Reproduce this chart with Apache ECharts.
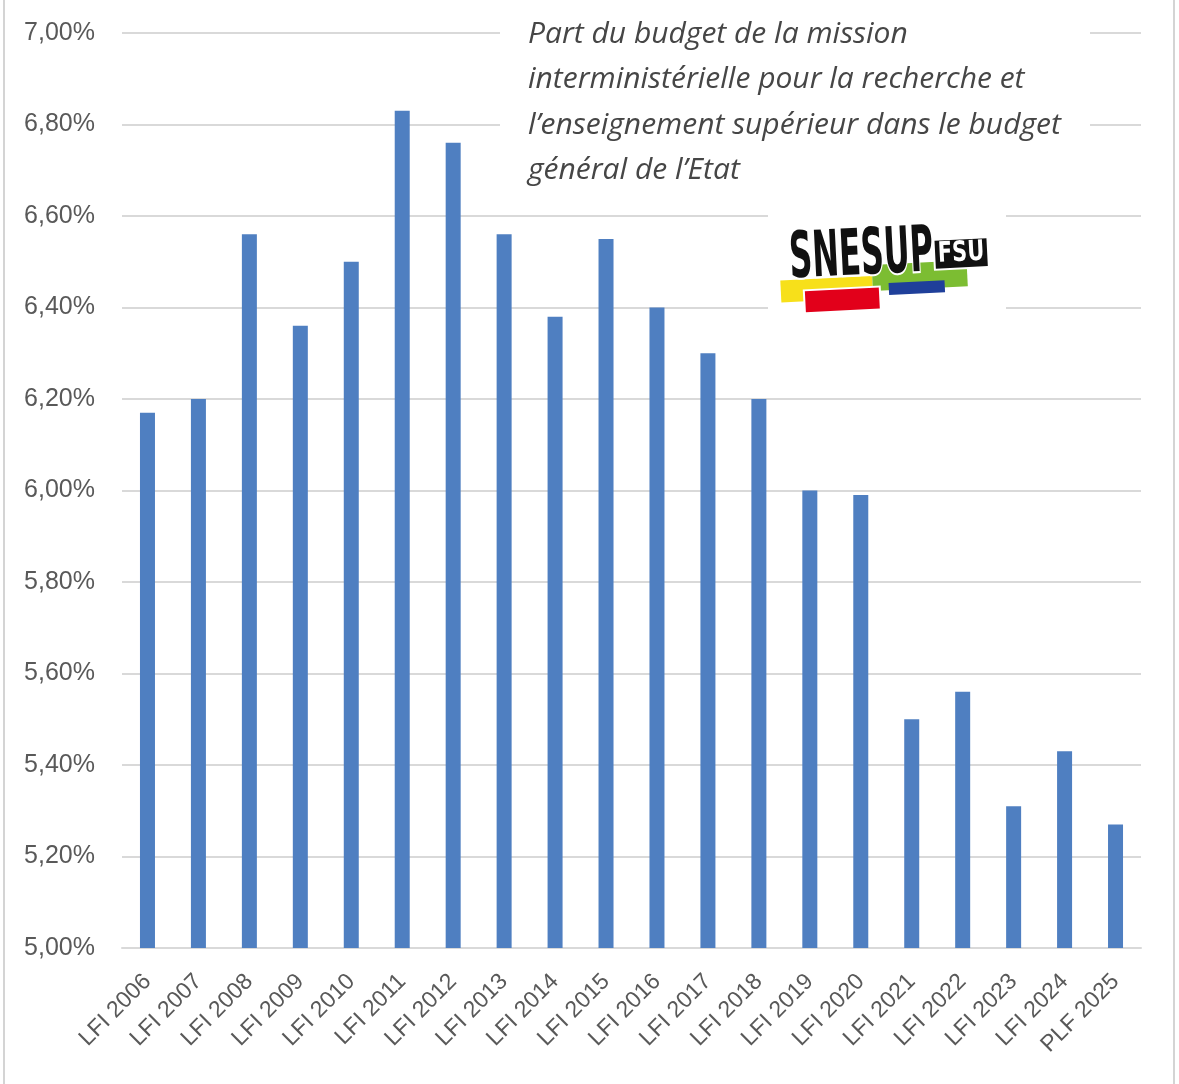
<!DOCTYPE html>
<html>
<head>
<meta charset="utf-8">
<script src="https://cdn.jsdelivr.net/npm/echarts@6/dist/echarts.min.js"></script>
<style>
html,body{margin:0;padding:0;background:#ffffff;}
#chart{width:1179px;height:1084px;}
</style>
</head>
<body>
<div id="chart"></div>
<script>
const categories = ['LFI 2006','LFI 2007','LFI 2008','LFI 2009','LFI 2010','LFI 2011','LFI 2012','LFI 2013','LFI 2014','LFI 2015','LFI 2016','LFI 2017','LFI 2018','LFI 2019','LFI 2020','LFI 2021','LFI 2022','LFI 2023','LFI 2024','PLF 2025'];
const shareValues = [6.17,6.20,6.56,6.36,6.50,6.83,6.76,6.56,6.38,6.55,6.40,6.30,6.20,6.00,5.99,5.50,5.56,5.31,5.43,5.27];
const titleLines = ['Part du budget de la mission','interministérielle pour la recherche et','l\u2019enseignement supérieur dans le budget','général de l\u2019Etat'];
const yMin = 5, yMax = 7, yStep = 0.2;

const chart = echarts.init(document.getElementById('chart'));
const txtColor = '#595959';
const gridColor = '#d9d9d9';

const graphics = [
  {type:'rect', z:1, shape:{x:4,y:-5,width:1170,height:1100}, style:{fill:'none',stroke:'#d4d4d4',lineWidth:2}, silent:true},
  {type:'rect', z:50, shape:{x:500,y:4,width:590,height:190}, style:{fill:'#ffffff'}},
  {type:'rect', z:50, shape:{x:768,y:198,width:238,height:116}, style:{fill:'#ffffff'}}
];
titleLines.forEach((t,i)=>{
  graphics.push({type:'text', z:60, x:528, y:34 + i*45.5, style:{text:t, fill:'#464646', font:'italic 30px "Open Sans"', textVerticalAlign:'middle', textAlign:'left'}});
});
graphics.push({
  type:'group', z:60, x:890, y:272, rotation:0.05,
  children:[
    {type:'rect', z:61, shape:{x:-110,y:3,width:92,height:22}, style:{fill:'#f7e01a'}},
    {type:'rect', z:61, shape:{x:-18,y:-8,width:95,height:26}, style:{fill:'#7cbd32'}},
    {type:'rect', z:62, shape:{x:-87,y:14,width:76,height:23}, style:{fill:'#e2001a', stroke:'#ffffff', lineWidth:2}},
    {type:'rect', z:62, shape:{x:-2,y:11,width:56,height:12}, style:{fill:'#1f3f9a'}},
    {type:'text', z:63, x:-100, y:16, scaleX:0.5, style:{text:'SNESUP', font:'bold 64px "DejaVu Sans"', fill:'#111111', stroke:'#ffffff', lineWidth:4, textAlign:'left', textVerticalAlign:'bottom'}},
    {type:'rect', z:64, shape:{x:45,y:-30,width:54,height:30}, style:{fill:'#111111', stroke:'#ffffff', lineWidth:2}},
    {type:'text', z:65, x:72, y:-15, scaleX:0.75, style:{text:'FSU', font:'bold 28px "DejaVu Sans"', fill:'#ffffff', textAlign:'center', textVerticalAlign:'middle'}}
  ]
});

chart.setOption({
  backgroundColor:'#ffffff',
  animation:false,
  grid:{left:122, right:38, top:33, bottom:136, containLabel:false},
  xAxis:{
    type:'category',
    data:categories,
    axisLine:{show:true, lineStyle:{color:gridColor, width:2}},
    axisTick:{show:false},
    axisLabel:{rotate:45, color:txtColor, fontSize:23, fontFamily:'Liberation Sans', margin:30, interval:0}
  },
  yAxis:{
    type:'value', min:yMin, max:yMax, interval:yStep,
    axisLine:{show:false}, axisTick:{show:false},
    splitLine:{lineStyle:{color:gridColor, width:2}},
    axisLabel:{color:txtColor, fontSize:25, fontFamily:'Liberation Sans', margin:27,
      formatter:v=>v.toFixed(2).replace('.',',')+'%'}
  },
  series:[{
    type:'bar',
    data:shareValues,
    barWidth:15,
    itemStyle:{color:'#4f7fc1'}
  }],
  graphic:graphics
});
</script>
</body>
</html>
